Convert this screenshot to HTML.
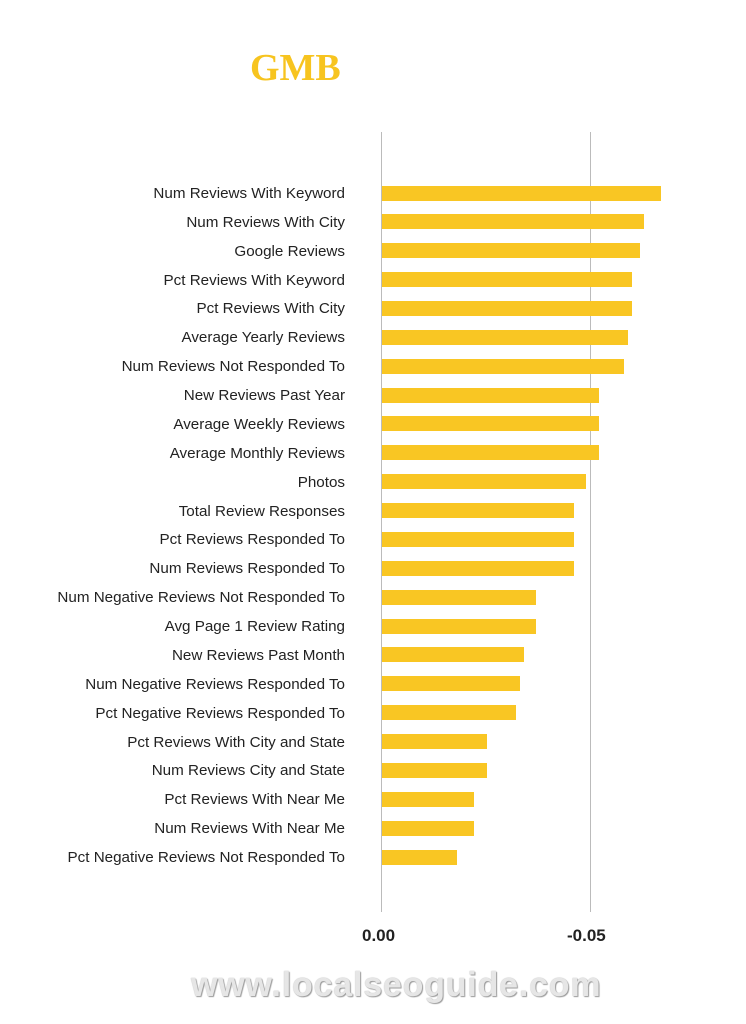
<!DOCTYPE html>
<html><head><meta charset="utf-8"><style>
body{margin:0;background:#fff;width:746px;height:1024px;position:relative;overflow:hidden;font-family:"Liberation Sans",sans-serif}
.t{position:absolute;left:250px;top:46px;font-family:"Liberation Serif",serif;font-weight:bold;font-size:38px;color:#f7c41f}
.ax{position:absolute;top:132px;height:780px;width:1px;background:#bbb}
.lb{position:absolute;right:401px;font-size:15.2px;color:#222;white-space:nowrap;line-height:18px}
.bar{position:absolute;left:382px;height:15px;background:#f9c623}
.tk{position:absolute;top:926px;font-size:17px;font-weight:bold;color:#222}
.wm{position:absolute;left:191px;top:966px;font-size:34px;font-weight:bold;color:#e6e6e6;letter-spacing:0.8px;text-shadow:1px 1px 1px #999,0 0 1px #aaa}
</style></head><body>
<div class="t">GMB</div>
<div class="ax" style="left:381px"></div>
<div class="ax" style="left:590px"></div>
<div id="c"></div>
<div class="tk" style="left:362px">0.00</div>
<div class="tk" style="left:567px">-0.05</div>
<div class="wm">www.localseoguide.com</div>
<script>
var d=[["Num Reviews With Keyword",661],["Num Reviews With City",644],["Google Reviews",640],["Pct Reviews With Keyword",632],["Pct Reviews With City",632],["Average Yearly Reviews",628],["Num Reviews Not Responded To",624],["New Reviews Past Year",599],["Average Weekly Reviews",599],["Average Monthly Reviews",599],["Photos",586],["Total Review Responses",574],["Pct Reviews Responded To",574],["Num Reviews Responded To",574],["Num Negative Reviews Not Responded To",536],["Avg Page 1 Review Rating",536],["New Reviews Past Month",524],["Num Negative Reviews Responded To",520],["Pct Negative Reviews Responded To",516],["Pct Reviews With City and State",487],["Num Reviews City and State",487],["Pct Reviews With Near Me",474],["Num Reviews With Near Me",474],["Pct Negative Reviews Not Responded To",457]];
var h="";d.forEach(function(r,i){var c=193+i*28.87;h+='<div class="lb" style="top:'+(c-8)+'px">'+r[0]+'</div><div class="bar" style="top:'+(c-7.5)+'px;width:'+(r[1]-382)+'px"></div>';});
document.getElementById("c").innerHTML=h;
</script>
</body></html>
